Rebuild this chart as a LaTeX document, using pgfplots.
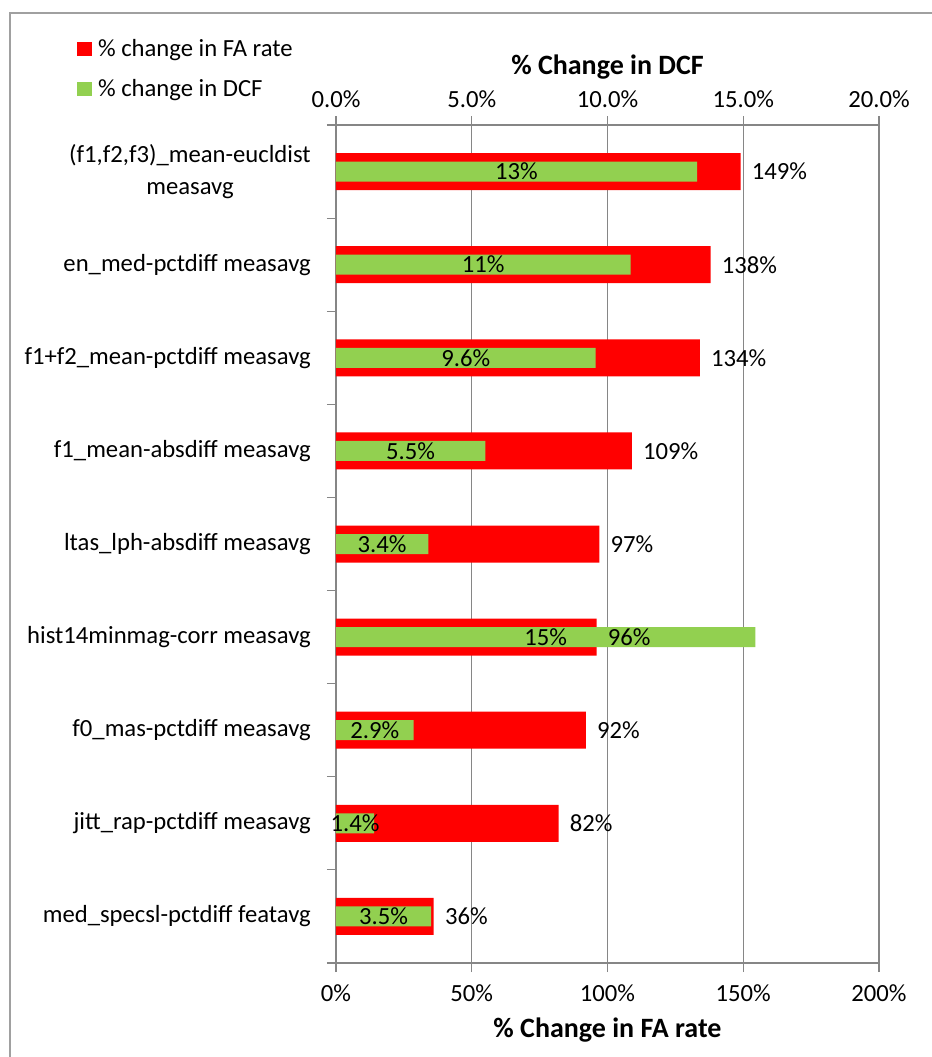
\documentclass[border=0pt]{standalone}
\usepackage{fontspec}
\setmainfont{Carlito}
\usepackage{pgfplots}
\usepackage{pgfplotstable}
\pgfplotsset{compat=1.18}
\definecolor{fared}{RGB}{255,0,0}
\definecolor{dcfgreen}{RGB}{146,208,80}
\definecolor{axgray}{RGB}{134,134,134}
\definecolor{framegray}{RGB}{160,160,160}

\pgfplotstableread{
c fa d dl
0 149 13.3 13
1 138 10.85 11
2 134 9.56 9.6
3 109 5.5 5.5
4 97 3.4 3.4
5 96 15.45 15
6 92 2.86 2.9
7 82 1.4 1.4
8 36 3.5 3.5
}\datatable

\pgfplotsset{
  base/.style={
    width=407.25pt, height=628.5pt, scale only axis,
    ymin=-0.5, ymax=8.5, y dir=reverse,
    font=\fontsize{18.5}{23}\selectfont,
    clip=false,
  },
}

\begin{document}
\begin{tikzpicture}
\useasboundingbox (-252pt,-70.5pt) rectangle (447pt,722.25pt);
\draw[framegray, line width=1pt] (-244.5pt,-72pt) -- (-244.5pt,712.5pt) -- (449pt,712.5pt);

% FA rate axis (bottom)
\begin{axis}[base,
  xmin=0, xmax=200,
  axis x line*=bottom, axis y line*=left,
  axis line style={axgray, line width=1pt},
  xtick={0,50,100,150,200},
  xticklabels={0\%,50\%,100\%,150\%,200\%},
  xmajorgrids, grid style={axgray, line width=0.8pt},
  tick style={axgray, line width=0.8pt},
  tick align=outside, major tick length=6.75pt,
  xticklabel style={inner sep=0pt, anchor=center, yshift=-15.75pt},
  ytick={-0.5,0.5,...,8.5}, yticklabels={},
  extra y ticks={0,1,2,3,4,5,6,7,8},
  extra y tick labels={{(f1,f2,f3)\_mean-eucldist\\measavg},
    en\_med-pctdiff measavg,
    f1+f2\_mean-pctdiff measavg,
    f1\_mean-absdiff measavg,
    ltas\_lph-absdiff measavg,
    hist14minmag-corr measavg,
    f0\_mas-pctdiff measavg,
    jitt\_rap-pctdiff measavg,
    med\_specsl-pctdiff featavg},
  extra y tick style={major tick length=0pt, grid=none,
    yticklabel style={inner sep=0pt, anchor=east, align=center, xshift=-18.75pt,
      font=\fontsize{18.5}{24.5}\selectfont}},
  xlabel={\bfseries\fontsize{21}{25}\selectfont \% Change in FA rate},
  xlabel style={at={(rel axis cs:0.5,0)}, anchor=center, yshift=-50.25pt},
  legend style={at={(rel axis cs:-0.478,1.106)}, anchor=north west, draw=none, fill=none,
    font=\fontsize{18.5}{22}\selectfont, row sep=12pt, inner sep=0pt,
    legend cell align=left},
  legend image code/.code={\fill[#1] (0pt,-5.25pt) rectangle (11.25pt,5.25pt);
    \path (14pt,0pt);},
]
\addplot[xbar, bar width=27.75pt, fill=fared, draw=none] table[x=fa, y=c]{\datatable};
\addlegendentry{\% change in FA rate}
\addlegendimage{fill=dcfgreen, draw=none}
\addlegendentry{\% change in DCF}
\end{axis}

% DCF axis (top)
\begin{axis}[base,
  xmin=0, xmax=20,
  axis x line*=top, axis y line=none,
  axis line style={axgray, line width=1pt},
  xtick={0,5,10,15,20},
  xticklabels={0.0\%,5.0\%,10.0\%,15.0\%,20.0\%},
  tick style={axgray, line width=0.8pt},
  tick align=outside, major tick length=6.75pt,
  xticklabel style={inner sep=0pt, anchor=center, yshift=12.75pt},
  xlabel={\bfseries\fontsize{21}{25}\selectfont \% Change in DCF},
  xlabel style={at={(rel axis cs:0.5,1)}, anchor=center, yshift=43.5pt},
]
\addplot[xbar, bar width=15pt, fill=dcfgreen, draw=none] table[x=d, y=c]{\datatable};
\addplot[draw=none, mark=none, point meta=explicit symbolic,
  nodes near coords={\pgfplotspointmeta\%},
  every node near coord/.style={anchor=center, inner sep=0pt, font=\fontsize{18.5}{22}\selectfont}]
  table[x expr=\thisrow{d}/2, y=c, meta=dl]{\datatable};
\end{axis}

% FA labels on top
\begin{axis}[base, xmin=0, xmax=200, hide axis]
\addplot[draw=none, mark=none, point meta=explicit symbolic,
  nodes near coords={\pgfplotspointmeta\%},
  every node near coord/.style={anchor=west, inner sep=0pt, xshift=8.25pt, font=\fontsize{18.5}{22}\selectfont}]
  table[x=fa, y=c, meta=fa]{\datatable};
\end{axis}
\end{tikzpicture}
\end{document}
